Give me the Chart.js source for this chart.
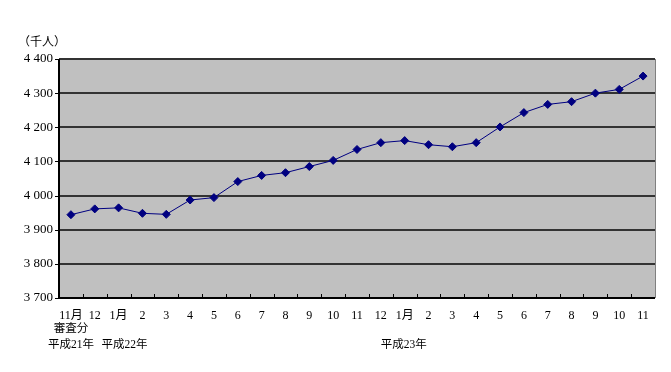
<!DOCTYPE html>
<html><head><meta charset="utf-8">
<script src="https://cdn.jsdelivr.net/npm/chart.js@4/dist/chart.umd.min.js"></script>
<style>html,body{margin:0;padding:0;background:#fff}#wrap{position:relative;width:671px;height:372px}</style>
</head><body><div id="wrap"><canvas id="c" width="671" height="372"></canvas></div>
<script>
const categories = ["11月", "12", "1月", "2", "3", "4", "5", "6", "7", "8", "9", "10", "11", "12",
  "1月", "2", "3", "4", "5", "6", "7", "8", "9", "10", "11"];
const values = [3944, 3961, 3964, 3948, 3945, 3987, 3994, 4041, 4059, 4067, 4085, 4103, 4135, 4155,
  4161, 4149, 4143, 4155, 4201, 4243, 4267, 4275, 4300, 4311, 4350];
const yMin = 3700, yMax = 4400, yStep = 100;
const unitLabel = "（千人）";
const subLabels = [
  { index: 0, text: "審査分", row: 1 },
  { index: 0, text: "平成21年", row: 2 },
  { index: 2, text: "平成22年", row: 2, dx: 6 },
  { index: 14, text: "平成23年", row: 2, dx: -1 }
];

const deco = {
  id: 'deco',
  beforeDraw(chart) {
    const {ctx, chartArea: a} = chart;
    ctx.save();
    ctx.fillStyle = '#c0c0c0';
    ctx.fillRect(a.left, a.top, a.right - a.left, a.bottom - a.top);
    ctx.restore();
  },
  afterDraw(chart) {
    const {ctx, chartArea: a, scales} = chart;
    ctx.save();
    ctx.strokeStyle = '#808080'; ctx.lineWidth = 1;
    ctx.beginPath(); ctx.moveTo(a.right + 0.5, a.top); ctx.lineTo(a.right + 0.5, a.bottom); ctx.stroke();
    ctx.strokeStyle = '#000'; ctx.lineWidth = 2;
    ctx.beginPath(); ctx.moveTo(a.left, a.top); ctx.lineTo(a.left, a.bottom); ctx.lineTo(a.right, a.bottom); ctx.stroke();
    const n = categories.length;
    const w = (a.right - a.left) / n;
    ctx.lineWidth = 1;
    for (let i = 1; i < n; i++) {
      const px = Math.round(a.left + i * w) + 0.5;
      ctx.beginPath(); ctx.moveTo(px, a.bottom); ctx.lineTo(px, a.bottom - 4); ctx.stroke();
    }
    for (let v = yMin; v <= yMax; v += yStep) {
      const py = Math.round(scales.y.getPixelForValue(v)) + 0.5;
      ctx.beginPath(); ctx.moveTo(a.left - 4, py); ctx.lineTo(a.left, py); ctx.stroke();
    }
    ctx.fillStyle = '#000';
    ctx.font = '12px "Noto Sans CJK JP"';
    ctx.textAlign = 'left'; ctx.textBaseline = 'middle';
    ctx.fillText(unitLabel, 18, 41);
    ctx.font = '11.5px "Liberation Serif", "Noto Sans CJK JP"';
    ctx.textAlign = 'center';
    for (const s of subLabels) {
      const px = scales.x.getPixelForValue(s.index) + (s.dx || 0);
      ctx.fillText(s.text, px, a.bottom + 15 + s.row * 16);
    }
    ctx.restore();
  }
};

new Chart(document.getElementById('c'), {
  type: 'line',
  data: {
    labels: categories,
    datasets: [{
      data: values,
      borderColor: '#000080',
      backgroundColor: '#000080',
      borderWidth: 1,
      pointStyle: 'rectRot',
      pointRadius: 4,
      pointHoverRadius: 4,
      tension: 0
    }]
  },
  options: {
    responsive: false,
    animation: false,
    events: [],
    layout: { padding: { left: 0, right: 16, top: 59, bottom: 0 } },
    plugins: { legend: { display: false }, tooltip: { enabled: false } },
    scales: {
      x: {
        offset: true,
        afterFit(s) { s.height = 74; },
        grid: { display: false, drawTicks: false },
        border: { display: false },
        ticks: {
          autoSkip: false, maxRotation: 0, color: '#000', padding: 11,
          font: { family: '"Liberation Serif", "Noto Sans CJK JP"', size: 12 }
        }
      },
      y: {
        min: yMin, max: yMax,
        afterFit(s) { s.width = 59; },
        grid: {
          color: ctx => ctx.tick && (ctx.tick.value === yMin) ? 'rgba(0,0,0,0)' : '#333333',
          lineWidth: 2, drawTicks: false
        },
        border: { display: false },
        ticks: {
          stepSize: yStep, color: '#000', padding: 6,
          font: { family: '"Liberation Serif"', size: 13 },
          callback: v => { const s = String(v); return s.slice(0, s.length - 3) + ' ' + s.slice(-3); }
        }
      }
    }
  },
  plugins: [deco]
});
</script></body></html>
